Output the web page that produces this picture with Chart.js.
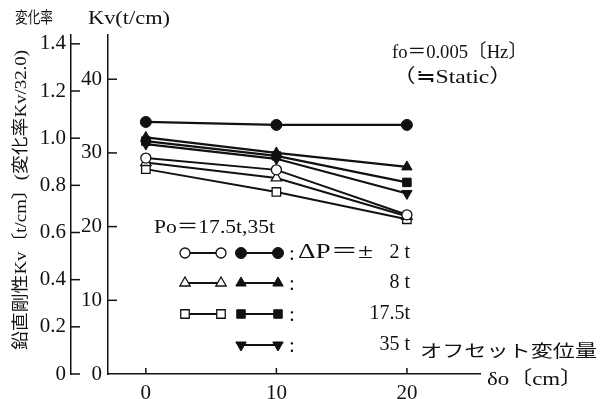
<!DOCTYPE html>
<html><head><meta charset="utf-8">
<script src="https://cdn.jsdelivr.net/npm/chart.js@4.4.1/dist/chart.umd.min.js"></script>
<style>html,body{margin:0;padding:0;background:#fff;} canvas{display:block;}</style>
</head><body>
<canvas id="c" width="600" height="399" style="width:600px;height:399px"></canvas>
<script>
// ---- data ----
const offsets = [0, 10, 20];                 // δo (cm)
const kvTicks = [0, 10, 20, 30, 40];         // Kv (t/cm)
const ratioTicks = [0, 0.2, 0.4, 0.6, 0.8, 1.0, 1.2, 1.4];
const xTicks = [0, 10, 20];
const refKv = 32.0;
// Po = 35t (filled markers)
const po35_dp2   = [34.2, 33.8, 33.8];
const po35_dp8   = [32.1, 30.0, 28.1];
const po35_dp175 = [31.6, 29.6, 26.0];
const po35_dp35  = [31.2, 29.2, 24.5];
// Po = 17.5t (open markers)
const po175_dp2   = [29.3, 27.7, 21.6];
const po175_dp8   = [28.7, 26.6, 21.4];
const po175_dp175 = [27.8, 24.7, 21.0];
const dpLabels = ['2 t', '8 t', '17.5t', '35 t'];

const FONT = '"Liberation Serif", "Noto Sans CJK JP", serif';
const INK = '#111';

function pts(vals){ return offsets.map((x,i)=>({x:x, y:vals[i]})); }
function filled(label, vals, style, r, rot){
  return {label, data: pts(vals), borderColor: INK, backgroundColor: INK,
    borderWidth: 2.2, pointStyle: style, pointRadius: r, pointRotation: rot||0,
    pointBackgroundColor: INK, pointBorderColor: INK, pointBorderWidth: 1, yAxisID:'y'};
}
function open(label, vals, style, r){
  return {label, data: pts(vals), borderColor: INK, backgroundColor: '#fff',
    borderWidth: 2, pointStyle: style, pointRadius: r,
    pointBackgroundColor: '#fff', pointBorderColor: INK, pointBorderWidth: 1.3, yAxisID:'y'};
}

const datasets = [
  open('Po17.5 ΔP2', po175_dp2, 'circle', 5),
  open('Po17.5 ΔP8', po175_dp8, 'triangle', 6),
  open('Po17.5 ΔP17.5', po175_dp175, 'rect', 6),
  filled('Po35 ΔP35', po35_dp35, 'triangle', 6, 180),
  filled('Po35 ΔP17.5', po35_dp175, 'rect', 6),
  filled('Po35 ΔP8', po35_dp8, 'triangle', 6),
  filled('Po35 ΔP2', po35_dp2, 'circle', 5.5),
];

function fitText(ctx, text, x, y, size, w, align){
  ctx.save();
  ctx.font = size + 'px ' + FONT;
  ctx.textBaseline = 'middle';
  ctx.textAlign = 'left';
  const m = ctx.measureText(text).width;
  const sx = w ? w / m : 1;
  let x0 = x;
  if (align === 'right') x0 = x - (w || m);
  ctx.translate(x0, y);
  ctx.scale(sx, 1);
  ctx.fillText(text, 0, 0);
  ctx.restore();
}

const decor = {
  id: 'decor',
  afterDraw(chart){
    const ctx = chart.ctx;
    const yS = chart.scales.y, y2S = chart.scales.y2, xS = chart.scales.x;
    ctx.save();
    ctx.strokeStyle = INK; ctx.fillStyle = INK; ctx.lineWidth = 1.5;
    const line = (a,b,c,d)=>{ctx.beginPath();ctx.moveTo(a,b);ctx.lineTo(c,d);ctx.stroke();};
    kvTicks.forEach(v=>{ if(v===0) return; const py = yS.getPixelForValue(v); line(yS.right, py, yS.right+9, py); });
    ratioTicks.forEach(v=>{ const py = y2S.getPixelForValue(v); line(y2S.right, py, y2S.right+9, py); });
    xTicks.forEach(v=>{ const px = xS.getPixelForValue(v); line(px, xS.top, px, xS.top-6); });

    // texts
    fitText(ctx, '変化率', 15, 19, 16, 38);
    fitText(ctx, 'Kv(t/cm)', 88, 19, 19, 82);
    fitText(ctx, 'fo＝0.005〔Hz〕', 392, 53, 19, 135);
    fitText(ctx, '（≒Static）', 392, 78, 19, 121);
    fitText(ctx, 'Po＝17.5t,35t', 154, 228, 19, 121);
    fitText(ctx, 'オフセット変位量', 420, 353, 17, 177);
    fitText(ctx, 'δo〔cm〕', 487, 380, 19, 96);

    // vertical axis title
    ctx.save();
    ctx.translate(22, 200);
    ctx.rotate(-Math.PI/2);
    ctx.font = '17px ' + FONT;
    ctx.textBaseline = 'middle';
    const t = '鉛直剛性Kv〔t/cm〕(変化率Kv/32.0)';
    const m = ctx.measureText(t).width;
    ctx.scale(300/m, 1);
    ctx.fillText(t, -m/2, 0);
    ctx.restore();

    // legend
    const H = Chart.helpers;
    const rows = [253, 283, 314, 345];
    const openStyles = [['circle',5,0],['triangle',6,0],['rect',6,0],null];
    const fillStyles = [['circle',5.5,0],['triangle',6,0],['rect',6,0],['triangle',6,180]];
    rows.forEach((ry, i)=>{
      const os = openStyles[i];
      if (os){
        ctx.lineWidth = 1.8; ctx.strokeStyle = INK;
        line(185, ry, 221, ry);
        [185, 221].forEach(px=>{
          ctx.fillStyle = '#fff'; ctx.strokeStyle = INK; ctx.lineWidth = 1.3;
          H.drawPoint(ctx, {pointStyle: os[0], radius: os[1], rotation: os[2], borderWidth: 1.3}, px, ry);
        });
      }
      const fs = fillStyles[i];
      ctx.lineWidth = 2.2; ctx.strokeStyle = INK;
      line(241, ry, 278, ry);
      [241, 278].forEach(px=>{
        ctx.fillStyle = INK; ctx.strokeStyle = INK; ctx.lineWidth = 1;
        H.drawPoint(ctx, {pointStyle: fs[0], radius: fs[1], rotation: fs[2], borderWidth: 1}, px, ry);
      });
      ctx.fillStyle = INK;
      fitText(ctx, ':', 289, ry + 1, 21);
      fitText(ctx, dpLabels[i], 410, ry, 20, null, 'right');
    });
    fitText(ctx, 'ΔP＝±', 298, rows[0], 20, 75);
    ctx.restore();
  }
};

new Chart(document.getElementById('c'), {
  type: 'line',
  data: { datasets },
  options: {
    responsive: false,
    devicePixelRatio: 1,
    animation: false,
    layout: { padding: { left: 31, right: 120, top: 35, bottom: 0 } },
    plugins: { legend: { display: false }, tooltip: { enabled: false } },
    scales: {
      x: {
        type: 'linear', min: -2.9, max: 25.6,
        afterBuildTicks: s => { s.ticks = xTicks.map(v=>({value:v})); },
        afterFit: s => { s.height = 25; },
        grid: { display: true, drawOnChartArea: false, drawTicks: false },
        border: { display: true, color: INK, width: 1.5 },
        ticks: { color: INK, padding: 7, font: { family: FONT, size: 21 }, maxRotation: 0 }
      },
      y: {
        type: 'linear', position: 'left', min: 0, max: 46, weight: 0,
        afterBuildTicks: s => { s.ticks = kvTicks.map(v=>({value:v})); },
        afterFit: s => { s.width = 37; },
        grid: { display: true, drawOnChartArea: false, drawTicks: false },
        border: { display: true, color: INK, width: 1.5 },
        ticks: { color: INK, padding: 6, font: { family: FONT, size: 21 } }
      },
      y2: {
        type: 'linear', position: 'left', min: 0, max: 46/refKv, weight: 1,
        afterBuildTicks: s => { s.ticks = ratioTicks.map(v=>({value:v})); },
        afterFit: s => { s.width = 40; },
        grid: { display: true, drawOnChartArea: false, drawTicks: false },
        border: { display: true, color: INK, width: 1.5 },
        ticks: { color: INK, padding: 5, font: { family: FONT, size: 21 },
          callback: v => v === 0 ? '0' : v.toFixed(1) }
      }
    }
  },
  plugins: [decor]
});
</script>
</body></html>
